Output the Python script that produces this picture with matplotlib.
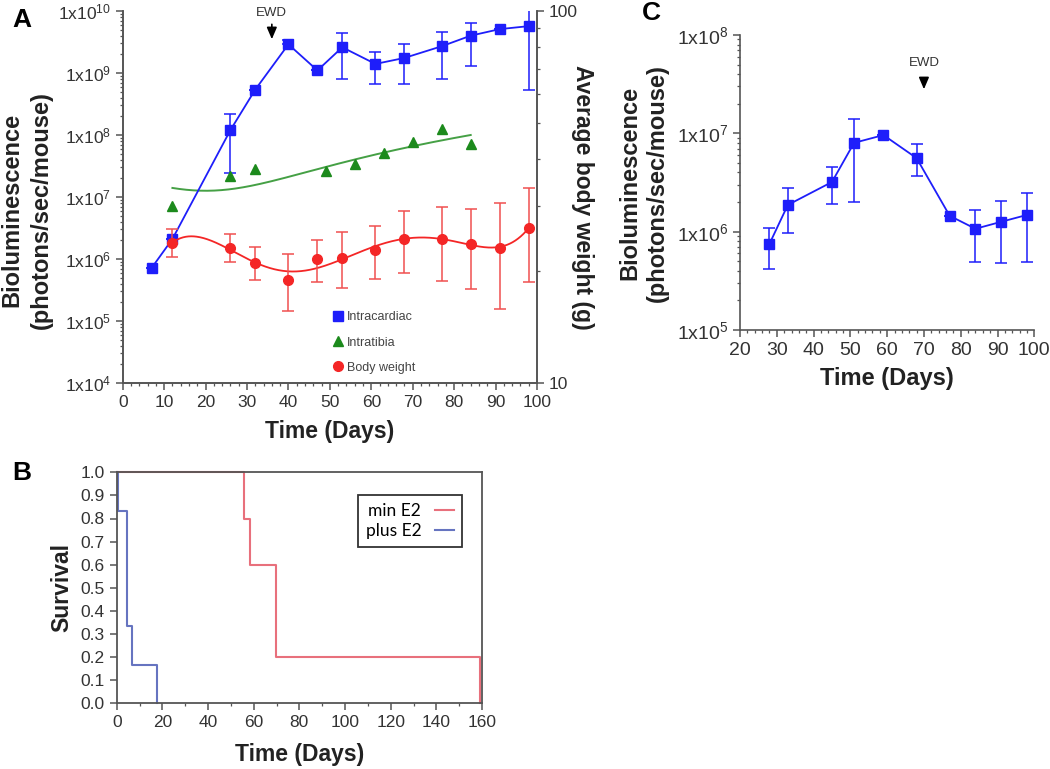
import numpy as np
import matplotlib
matplotlib.use('Agg')
import matplotlib.pyplot as plt
from matplotlib.ticker import FixedLocator, FuncFormatter, MultipleLocator, LogLocator, NullFormatter
from matplotlib.lines import Line2D

plt.rcParams['font.family'] = ['Liberation Sans', 'DejaVu Sans']
plt.rcParams['mathtext.fontset'] = 'custom'
plt.rcParams['mathtext.rm'] = 'Liberation Sans'
plt.rcParams['mathtext.it'] = 'Liberation Sans'
plt.rcParams['mathtext.bf'] = 'Liberation Sans:bold'

# ---------------- Panel A data ----------------
ic_days = [7, 12, 26, 32, 40, 47, 53, 61, 68, 77, 84, 91, 98]
ic_mean = [7.2e5, 2.1e6, 1.2e8, 5.4e8, 2.9e9, 1.1e9, 2.6e9, 1.4e9, 1.75e9, 2.7e9, 4.0e9, 5.1e9, 5.7e9]
ic_hi = [7.2e5, 2.1e6, 2.2e8, 5.4e8, 3.4e9, 1.1e9, 4.4e9, 2.2e9, 2.9e9, 4.6e9, 6.4e9, 5.1e9, 1.02e10]
ic_lo = [7.2e5, 2.1e6, 2.4e7, 5.4e8, 2.9e9, 1.1e9, 8.0e8, 6.6e8, 6.6e8, 8.0e8, 1.3e9, 5.1e9, 5.4e8]

it_days = [12, 26, 32, 49, 56, 63, 70, 77, 84]
it_vals = [7.2e6, 2.2e7, 2.8e7, 2.6e7, 3.4e7, 5.1e7, 7.7e7, 1.25e8, 7.1e7]
# trend line of the intratibia group (quadratic), read at three days
it_trend_days = [12, 18, 84]
it_trend_vals = [1.4e7, 1.27e7, 1.0e8]

bw_days = [12, 26, 32, 40, 47, 53, 61, 68, 77, 84, 91, 98]
bw_mean = [23.8, 23.1, 21.0, 18.9, 21.5, 21.7, 22.8, 24.4, 24.4, 23.7, 23.1, 26.1]
bw_hi = [25.9, 25.1, 23.2, 22.2, 24.2, 25.5, 26.4, 29.0, 29.7, 29.4, 30.5, 33.4]
bw_lo = [21.8, 21.1, 18.9, 15.6, 18.7, 18.0, 19.0, 19.8, 18.8, 17.9, 15.8, 18.7]

# ---------------- Panel B data ----------------
minE2_t = [0, 55.9, 58.6, 69.7, 159.2]
minE2_s = [1.0, 0.8, 0.6, 0.2, 0.0]
plusE2_t = [0, 0.5, 4.5, 6.6, 17.6]
plusE2_s = [1.0, 0.833, 0.333, 0.167, 0.0]

# ---------------- Panel C data ----------------
c_days = [28, 33, 45, 51, 59, 68, 77, 84, 91, 98]
c_mean = [7.5e5, 1.87e6, 3.2e6, 8.0e6, 9.6e6, 5.6e6, 1.45e6, 1.07e6, 1.26e6, 1.48e6]
c_hi = [1.1e6, 2.8e6, 4.5e6, 1.4e7, 9.6e6, 7.8e6, 1.45e6, 1.66e6, 2.04e6, 2.45e6]
c_lo = [4.2e5, 9.6e5, 1.9e6, 2.0e6, 9.6e6, 3.7e6, 1.45e6, 4.9e5, 4.8e5, 4.9e5]

BLUE = '#1e1efa'
RED = '#f42626'
REDERR = '#f05050'
GREEN = '#1c8a1c'
GREENLINE = '#45a045'
SPINE = '#555555'
TXT = '#222222'

W, H = 1050, 769
fig = plt.figure(figsize=(W / 100, H / 100), dpi=100)


def px_axes(l, t, r, b):
    return fig.add_axes([l / W, 1 - b / H, (r - l) / W, (b - t) / H])


def sci_fmt(v, pos):
    e = int(round(np.log10(v)))
    return r'$\mathregular{1x10^{%d}}$' % e


def style_ticks(ax, size=12.5):
    ax.tick_params(which='major', length=5, width=1.1, color=SPINE, labelsize=size, labelcolor='#333333')
    ax.tick_params(which='minor', length=2.5, width=0.9, color=SPINE)


# ================= Panel A =================
axA = px_axes(122.7, 11, 537, 383)
axA.set_yscale('log')
axA.set_xlim(0, 100)
axA.set_ylim(1e4, 1e10)
axA.spines['top'].set_visible(False)
for s in ['left', 'bottom', 'right']:
    axA.spines[s].set_color(SPINE)
    axA.spines[s].set_linewidth(1.2)
axA.xaxis.set_major_locator(MultipleLocator(10))
axA.xaxis.set_minor_locator(MultipleLocator(2))
axA.yaxis.set_major_locator(LogLocator(base=10, numticks=20))
axA.yaxis.set_minor_locator(LogLocator(base=10, subs=np.arange(2, 10), numticks=20))
axA.yaxis.set_major_formatter(FuncFormatter(sci_fmt))
axA.yaxis.set_minor_formatter(NullFormatter())
style_ticks(axA, 12.5)

# intracardiac
ic_mean_a = np.array(ic_mean)
axA.errorbar(ic_days, ic_mean, yerr=[ic_mean_a - np.array(ic_lo), np.array(ic_hi) - ic_mean_a],
             fmt='s', color=BLUE, ms=7, ecolor=BLUE, elinewidth=1.1, capsize=4, capthick=1.1, zorder=5)
axA.plot(ic_days, ic_mean, '-', color=BLUE, lw=1.3, zorder=4)

# intratibia with quadratic trend
coef = np.polyfit(np.array(it_trend_days, float), np.array(it_trend_vals, float), 2)
xx = np.linspace(min(it_days), max(it_days), 300)
axA.plot(xx, np.polyval(coef, xx), '-', color=GREENLINE, lw=1.4, zorder=3)
axA.plot(it_days, it_vals, '^', color=GREEN, ms=6.5, ls='none', zorder=6)

axA.set_xlabel('Time (Days)', fontsize=16.5, fontweight='bold', color=TXT, labelpad=7)

# body weight on right axis
axR = axA.twinx()
axR.set_yscale('log')
axR.set_ylim(10, 100)
axR.spines['top'].set_visible(False)
for s in ['left', 'bottom', 'right']:
    axR.spines[s].set_color(SPINE)
    axR.spines[s].set_linewidth(1.2)
axR.yaxis.set_major_locator(FixedLocator([10, 100]))
axR.yaxis.set_minor_locator(FixedLocator([20, 30, 40, 50, 60, 70, 80, 90]))
axR.yaxis.set_major_formatter(FuncFormatter(lambda v, p: '%d' % v))
axR.yaxis.set_minor_formatter(NullFormatter())
style_ticks(axR, 12.5)
bw_m = np.array(bw_mean)
axR.errorbar(bw_days, bw_mean, yerr=[bw_m - np.array(bw_lo), np.array(bw_hi) - bw_m],
             fmt='o', color=RED, ms=7, ecolor=REDERR, elinewidth=1.1, capsize=4, capthick=1.1, zorder=5)
bx = np.array(bw_days, float)
bc = np.polyfit((bx - 55) / 43, bw_m, 5)
xx2 = np.linspace(12, 98, 400)
axR.plot(xx2, np.polyval(bc, (xx2 - 55) / 43), '-', color=RED, lw=1.3, zorder=4)
axR.set_ylabel('Average body weight (g)', fontsize=16.5, fontweight='bold', color=TXT,
               rotation=270, labelpad=12)

# legend A
handles = [Line2D([], [], marker='s', color=BLUE, ls='none', ms=7),
           Line2D([], [], marker='^', color=GREEN, ls='none', ms=7),
           Line2D([], [], marker='o', color=RED, ls='none', ms=7)]
legA = axA.legend(handles, ['Intracardiac', 'Intratibia', 'Body weight'], loc='upper left',
                  bbox_to_anchor=((330 - 122.7) / (537 - 122.7), (383 - 309) / 372), frameon=False,
                  fontsize=9, handlelength=0.8, handletextpad=0.35, labelspacing=1.05,
                  borderpad=0.2, borderaxespad=0)
for t in legA.get_texts():
    t.set_color('#444444')

# EWD arrow A
axA.annotate('', xy=(36, 10 ** 9.5), xytext=(36, 10 ** 9.83),
             arrowprops=dict(arrowstyle='-|>,head_length=0.7,head_width=0.3', color='black', lw=1.2),
             annotation_clip=False)
axA.text(36, 10 ** 9.96, 'EWD', ha='center', va='center', fontsize=9.5, color='#333333', clip_on=False)

fig.text(12 / W, 1 - 210 / H, 'Bioluminescence', rotation=90, ha='center', va='center',
         fontsize=17, fontweight='bold', color=TXT)
fig.text(41 / W, 1 - 210 / H, '(photons/sec/mouse)', rotation=90, ha='center', va='center',
         fontsize=17, fontweight='bold', color=TXT)

# ================= Panel B =================
axB = px_axes(116.7, 472.3, 482, 703.3)
axB.set_xlim(0, 160)
axB.set_ylim(0, 1.0)
for s in axB.spines.values():
    s.set_color(SPINE)
    s.set_linewidth(1.3)
axB.xaxis.set_major_locator(MultipleLocator(20))
axB.xaxis.set_minor_locator(MultipleLocator(10))
axB.yaxis.set_major_locator(MultipleLocator(0.1))
axB.yaxis.set_major_formatter(FuncFormatter(lambda v, p: '%.1f' % v))
style_ticks(axB, size=12.5)
axB.step(minE2_t, minE2_s, where='post', color='#e8707c', lw=1.5, label='min E2', clip_on=False)
axB.step(plusE2_t, plusE2_s, where='post', color='#6674c0', lw=1.5, label='plus E2', clip_on=False)
legB = axB.legend(loc='upper right', bbox_to_anchor=((462 - 116.7) / 365.3, (703.3 - 495) / 231),
                  markerfirst=False, fancybox=False, framealpha=1, edgecolor='#333333',
                  prop={'family': 'Lato', 'size': 12.5}, handlelength=1.1, borderpad=0.45,
                  labelspacing=0.25, borderaxespad=0)
legB.get_frame().set_linewidth(1.3)
axB.set_xlabel('Time (Days)', fontsize=16.5, fontweight='bold', color=TXT, labelpad=9)
axB.set_ylabel('Survival', fontsize=16.5, fontweight='bold', color=TXT, labelpad=5)

# ================= Panel C =================
axC = px_axes(740, 35, 1034.3, 330)
axC.set_yscale('log')
axC.set_xlim(20, 100)
axC.set_ylim(1e5, 1e8)
for s in ['top', 'right']:
    axC.spines[s].set_visible(False)
for s in ['left', 'bottom']:
    axC.spines[s].set_color(SPINE)
    axC.spines[s].set_linewidth(1.2)
axC.xaxis.set_major_locator(MultipleLocator(10))
axC.xaxis.set_minor_locator(MultipleLocator(2))
axC.yaxis.set_major_locator(LogLocator(base=10, numticks=20))
axC.yaxis.set_minor_locator(LogLocator(base=10, subs=np.arange(2, 10), numticks=20))
axC.yaxis.set_major_formatter(FuncFormatter(sci_fmt))
axC.yaxis.set_minor_formatter(NullFormatter())
style_ticks(axC, 14)
c_m = np.array(c_mean)
axC.errorbar(c_days, c_mean, yerr=[c_m - np.array(c_lo), np.array(c_hi) - c_m],
             fmt='s-', color=BLUE, ms=7.5, lw=1.3, ecolor=BLUE, elinewidth=1.1, capsize=4, capthick=1.1)
axC.set_xlabel('Time (Days)', fontsize=17, fontweight='bold', color=TXT, labelpad=6)
axC.annotate('', xy=(70, 10 ** 7.42), xytext=(70, 10 ** 7.58),
             arrowprops=dict(arrowstyle='-|>,head_length=0.7,head_width=0.3', color='black', lw=1.2))
axC.text(70, 10 ** 7.715, 'EWD', ha='center', va='center', fontsize=9.5, color='#333333')
fig.text(630 / W, 1 - 183 / H, 'Bioluminescence', rotation=90, ha='center', va='center',
         fontsize=17, fontweight='bold', color=TXT)
fig.text(657 / W, 1 - 183 / H, '(photons/sec/mouse)', rotation=90, ha='center', va='center',
         fontsize=17, fontweight='bold', color=TXT)

# panel letters
fig.text(22 / W, 1 - 20 / H, 'A', ha='center', va='center', fontsize=19, fontweight='bold', color='black')
fig.text(22 / W, 1 - 473 / H, 'B', ha='center', va='center', fontsize=19, fontweight='bold', color='black')
fig.text(651 / W, 1 - 13 / H, 'C', ha='center', va='center', fontsize=19, fontweight='bold', color='black')

fig.savefig('out.png', dpi=100)
